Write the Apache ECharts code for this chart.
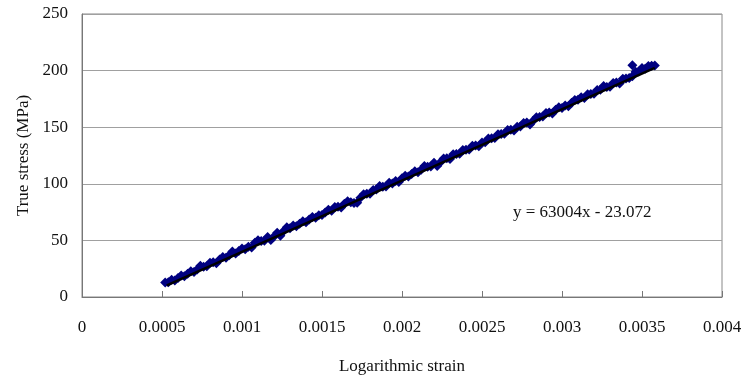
<!DOCTYPE html>
<html>
<head>
<meta charset="utf-8">
<script src="https://cdn.jsdelivr.net/npm/echarts@6/dist/echarts.min.js"></script>
<style>html,body{margin:0;padding:0;background:#fff}#c{width:746px;height:380px}</style>
</head>
<body>
<div id="c"></div>
<script>
// Logarithmic strain values
const strain = [
0.00052,0.00054,0.00056,0.00058,0.00060,0.00062,0.00064,0.00066,0.00068,0.00070,
0.00072,0.00074,0.00076,0.00078,0.00080,0.00082,0.00084,0.00086,0.00088,0.00090,
0.00092,0.00094,0.00096,0.00098,0.00100,0.00102,0.00104,0.00106,0.00108,0.00110,
0.00112,0.00114,0.00116,0.00118,0.00120,0.00122,0.00124,0.00126,0.00128,0.00130,
0.00132,0.00134,0.00136,0.00138,0.00140,0.00142,0.00144,0.00146,0.00148,0.00150,
0.00152,0.00154,0.00156,0.00158,0.00160,0.00162,0.00164,0.00166,0.00168,0.00170,
0.00172,0.00174,0.00176,0.00178,0.00180,0.00182,0.00184,0.00186,0.00188,0.00190,
0.00192,0.00194,0.00196,0.00198,0.00200,0.00202,0.00204,0.00206,0.00208,0.00210,
0.00212,0.00214,0.00216,0.00218,0.00220,0.00222,0.00224,0.00226,0.00228,0.00230,
0.00232,0.00234,0.00236,0.00238,0.00240,0.00242,0.00244,0.00246,0.00248,0.00250,
0.00252,0.00254,0.00256,0.00258,0.00260,0.00262,0.00264,0.00266,0.00268,0.00270,
0.00272,0.00274,0.00276,0.00278,0.00280,0.00282,0.00284,0.00286,0.00288,0.00290,
0.00292,0.00294,0.00296,0.00298,0.00300,0.00302,0.00304,0.00306,0.00308,0.00310,
0.00312,0.00314,0.00316,0.00318,0.00320,0.00322,0.00324,0.00326,0.00328,0.00330,
0.00332,0.00334,0.00336,0.00338,0.00340,0.00342,0.00344,0.00346,0.00348,0.00350,
0.00352,0.00354,0.00356,0.00358,0.00344
];
// True stress values (MPa)
const stress = [
12.7,13.0,15.2,14.5,16.7,19.0,18.3,20.5,22.8,22.0,
24.3,27.6,26.8,27.1,30.3,30.6,29.9,33.1,35.4,34.6,
36.9,40.2,38.4,40.7,42.9,42.2,44.5,43.7,48.0,50.2,
49.5,49.8,53.0,50.3,53.5,56.8,54.1,58.3,61.6,60.8,
63.1,62.4,64.6,66.9,66.1,68.4,70.7,69.9,72.2,72.4,
74.7,77.0,76.2,79.5,79.7,79.0,82.3,84.5,83.8,83.0,
83.3,87.6,90.8,91.1,91.3,94.6,94.9,98.1,97.4,97.6,
100.9,100.2,102.4,101.7,104.9,107.2,106.5,108.7,111.0,110.2,
112.5,115.8,115.0,115.3,118.5,115.8,119.1,122.3,122.6,121.8,
126.1,126.4,126.6,129.9,130.1,130.4,133.7,133.9,133.2,136.4,
136.7,140.0,140.2,140.5,143.7,144.0,144.3,147.5,147.8,147.0,
150.3,150.6,153.8,154.1,152.3,155.6,158.9,159.1,159.4,162.6,
162.9,162.2,165.4,167.7,166.9,169.2,168.5,171.7,174.0,174.2,
176.5,175.8,179.0,179.3,179.5,182.8,183.1,186.3,185.6,185.8,
189.1,189.4,188.6,192.9,193.1,193.4,204.7,198.9,199.2,202.4,
201.7,204.0,204.2,204.5,195.0
];
// Linear trendline endpoints (y = 63004x - 23.072)
const trendX = [0.00053, 0.00358];
const trendY = [10.32, 202.48];
const equationText = 'y = 63004x - 23.072';
const xTicks = { min: 0, max: 0.004, interval: 0.0005 };
const yTicks = { min: 0, max: 250, interval: 50 };

const FONT = "'Liberation Serif','Times New Roman',serif";
const chart = echarts.init(document.getElementById('c'), null, { renderer: 'canvas' });
chart.setOption({
  animation: false,
  backgroundColor: '#fff',
  grid: { left: 82, right: 24, top: 14, bottom: 83, show: true, borderColor: '#888', borderWidth: 1 },
  xAxis: {
    type: 'value', min: xTicks.min, max: xTicks.max, interval: xTicks.interval,
    name: 'Logarithmic strain', nameLocation: 'middle', nameGap: 61,
    nameTextStyle: { fontFamily: FONT, fontSize: 17, color: '#111' },
    axisLine: { show: true, onZero: false, lineStyle: { color: '#777', width: 1 } },
    axisTick: { show: true, inside: true, length: 6, lineStyle: { color: '#777' } },
    axisLabel: { fontFamily: FONT, fontSize: 17, color: '#111', margin: 22, formatter: v => String(v) },
    splitLine: { show: false }
  },
  yAxis: {
    type: 'value', min: yTicks.min, max: yTicks.max, interval: yTicks.interval,
    name: 'True stress (MPa)', nameLocation: 'middle', nameGap: 50, nameRotate: 90,
    nameTextStyle: { fontFamily: FONT, fontSize: 17, color: '#111' },
    axisLine: { show: true, lineStyle: { color: '#777', width: 1 } },
    axisTick: { show: false },
    axisLabel: { fontFamily: FONT, fontSize: 17, color: '#111', margin: 14 },
    splitLine: { show: true, lineStyle: { color: '#a0a0a0', width: 1 } }
  },
  series: [
    {
      type: 'scatter', symbol: 'diamond', symbolSize: 10,
      itemStyle: { color: '#000080', opacity: 1 },
      data: strain.map((x, i) => [x, stress[i]]), z: 2
    },
    {
      type: 'line', symbol: 'none', silent: true,
      lineStyle: { color: '#000', width: 2.5 },
      data: trendX.map((x, i) => [x, trendY[i]]), z: 3
    }
  ],
  graphic: [{
    type: 'text', left: 513, top: 204,
    style: { text: equationText, font: "17px " + FONT, fill: '#111' }
  }]
});
</script>
</body>
</html>
